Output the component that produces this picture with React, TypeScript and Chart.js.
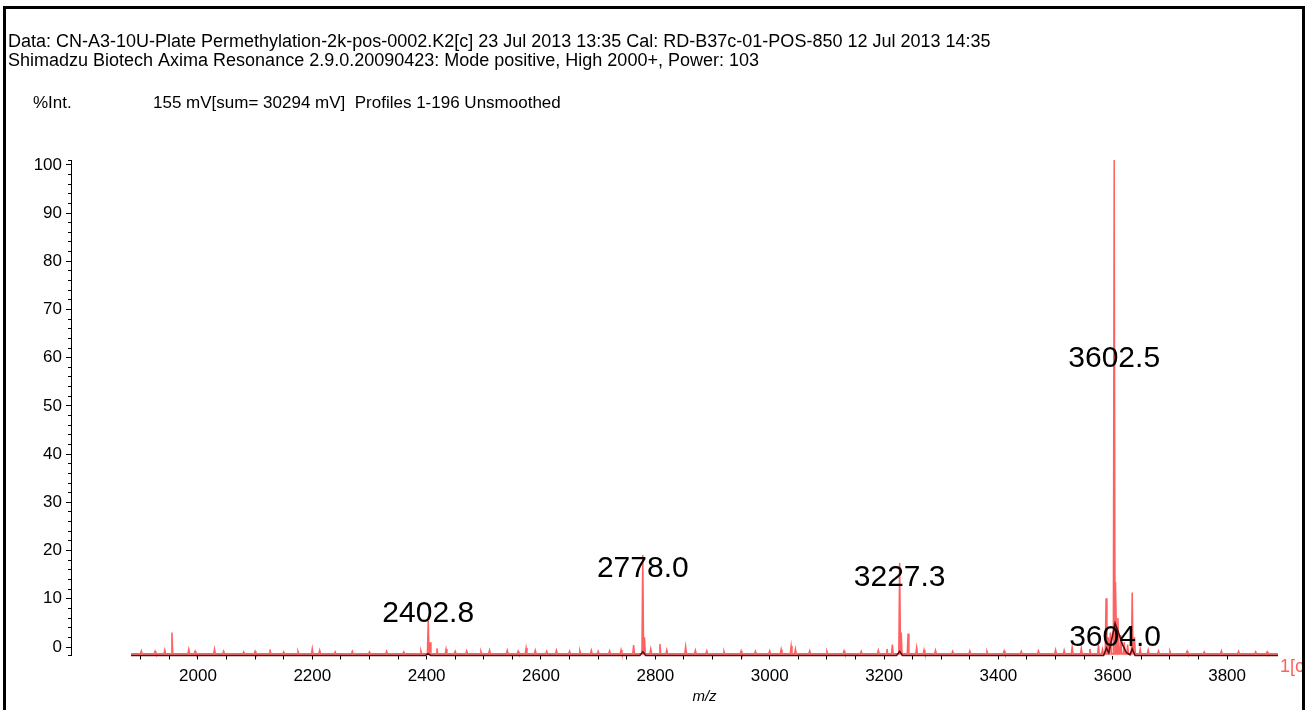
import React, { useEffect, useRef } from "react";
import { Chart, registerables } from "chart.js";

Chart.register(...registerables);

// ---- axis ranges ----
const X_AXIS_MIN = 1778; // value under the y axis line
const X_DATA_MIN = 1883; // left end of the spectrum trace
const X_MAX = 3889;
const Y_MIN = -1.76;
const Y_MAX = 101;
const RAW_BASE = -1.4; // baseline level of the raw profile

// ---- header texts ----
const headerLine1 =
  "Data: CN-A3-10U-Plate Permethylation-2k-pos-0002.K2[c] 23 Jul 2013 13:35 Cal: RD-B37c-01-POS-850 12 Jul 2013 14:35";
const headerLine2 =
  "Shimadzu Biotech Axima Resonance 2.9.0.20090423: Mode positive, High 2000+, Power: 103";
const intLabel = "%Int.";
const infoLabel = "155 mV[sum= 30294 mV]  Profiles 1-196 Unsmoothed";
const xTitle = "m/z";
const traceTag = "1[c";

// ---- tick labels ----
const xTickLabels = [2000, 2200, 2400, 2600, 2800, 3000, 3200, 3400, 3600, 3800];
const yTickLabels = [0, 10, 20, 30, 40, 50, 60, 70, 80, 90, 100];
const Y_MINOR_STEP = 2;

// ---- raw (unsmoothed) profile: peak positions and intensities ----
const peakMz = [
  1901, 1925, 1942, 1954.5, 1984, 1995, 2029, 2045, 2080, 2100, 2126, 2150, 2175, 2200, 2213,
  2240, 2270, 2300, 2330, 2360, 2390, 2402.8, 2406, 2418, 2434, 2450, 2470, 2495, 2510, 2541,
  2560, 2574, 2590, 2610, 2627, 2650, 2668, 2688, 2700, 2720, 2740, 2762, 2778.0, 2781, 2792,
  2808, 2820, 2853, 2870, 2890, 2920, 2950, 2975, 3000, 3020, 3037.5, 3045, 3070, 3100, 3130,
  3160, 3190, 3205, 3214.5, 3227.3, 3230, 3242, 3257, 3270, 3290, 3320, 3350, 3380, 3410,
  3440, 3470, 3500, 3515, 3529, 3545, 3560, 3575, 3582, 3588.3, 3592, 3596, 3602.5, 3605.5,
  3609, 3614, 3620, 3626, 3634, 3638, 3648, 3662, 3680, 3700, 3730, 3760, 3790, 3820, 3850,
  3870,
];
const peakInt = [
  -0.8, -0.9, -0.6, 3.0, -0.5, -0.9, -0.4, -0.9, -1.0, -0.9, -0.5, -1.0, -0.9, -0.3, -0.7,
  -1.0, -0.9, -1.0, -0.9, -1.0, -0.8, 5.5, 1.0, -0.3, -0.4, -0.9, -0.8, -0.9, -0.7, -0.7,
  -0.9, -0.2, -0.7, -0.9, -0.7, -0.9, -0.8, -0.7, -0.9, -0.8, -0.6, 0.4, 19.1, 2.0, -0.4,
  0.6, -0.6, 0.1, -0.7, -0.8, -0.9, -0.8, -0.9, -0.8, -0.5, 0.2, -0.4, -0.8, -0.9, -0.8,
  -0.9, -0.7, -0.4, 0.5, 17.4, 3.0, 2.8, -0.1, -0.6, -0.7, -0.9, -0.8, -0.9, -0.8,
  -0.9, -0.8, -0.6, -0.7, 0.0, -0.3, -0.4, 0.4, -0.5, 10.1, 2.0, 3.0, 101.0, 13.5,
  6.0, 2.5, 1.0, 0.5, 11.3, 2.0, -0.4, -0.6, -0.8, -0.9, -0.9, -1.0, -0.8, -0.9, -1.0,
  -1.0,
];

// ---- dark trace ----
const darkMz = [
  1883, 2398, 2402.8, 2407, 2773, 2778, 2783, 3222, 3227.3, 3232, 3584, 3589, 3593, 3598,
  3604, 3610, 3617, 3624, 3630, 3634, 3639, 3889,
];
const darkInt = [
  -1.76, -1.76, -1.4, -1.76, -1.76, -1.0, -1.76, -1.76, -0.9, -1.76, -1.76, -0.2, -1.2, 1.5,
  4.9, 3.0, 0.5, -1.2, -1.6, -0.4, -1.76, -1.76,
];

// ---- peak annotations ----
const labelMz = [2402.8, 2778.0, 3227.3, 3602.5, 3604.0];
const labelText = ["2402.8", "2778.0", "3227.3", "3602.5", "3604.0"];
const labelLevel = [7.0, 16.3, 14.3, 59.8, 2.0];

const FONT = '"Liberation Sans", Arial, Helvetica, sans-serif';
const SALMON = "rgb(255, 96, 96)";

export default function App() {
  const ref = useRef<HTMLCanvasElement | null>(null);

  useEffect(() => {
    if (!ref.current) return;
    const HALF = 1.5;
    const raw: { x: number; y: number }[] = [{ x: X_DATA_MIN, y: RAW_BASE }];
    peakMz.forEach((m, i) => {
      raw.push({ x: m - HALF, y: RAW_BASE }, { x: m, y: peakInt[i] }, { x: m + HALF, y: RAW_BASE });
    });
    raw.push({ x: X_MAX, y: RAW_BASE });
    const dark = darkMz.map((m, i) => ({ x: m, y: darkInt[i] }));

    const yTickValues: number[] = [Y_MIN];
    for (let v = yTickLabels[0]; v <= yTickLabels[yTickLabels.length - 1]; v += Y_MINOR_STEP) yTickValues.push(v);
    yTickValues.push(Y_MAX);

    const overlay = {
      id: "overlay",
      afterDraw(chart: any) {
        const { ctx } = chart;
        const xs = chart.scales.x;
        const ys = chart.scales.y;
        ctx.save();
        ctx.fillStyle = "#000";
        ctx.textAlign = "left";
        ctx.textBaseline = "middle";
        ctx.font = `18px ${FONT}`;
        ctx.fillText(headerLine1, 8, 42);
        ctx.fillText(headerLine2, 8, 61);
        ctx.font = `17px ${FONT}`;
        ctx.fillText(intLabel, 33, 103);
        ctx.fillText(infoLabel, 153, 103);
        // x title centered under the spectrum range
        ctx.textAlign = "center";
        ctx.font = `italic 15px ${FONT}`;
        ctx.fillText(xTitle, (xs.getPixelForValue(X_DATA_MIN) + xs.right) / 2, 697);
        // peak labels
        ctx.font = `30px ${FONT}`;
        labelMz.forEach((m, i) => {
          ctx.fillText(labelText[i], xs.getPixelForValue(m), ys.getPixelForValue(labelLevel[i]));
        });
        // trace tag
        ctx.textAlign = "left";
        ctx.fillStyle = SALMON;
        ctx.font = `18px ${FONT}`;
        ctx.fillText(traceTag, xs.right + 2, ys.bottom + 12);
        // frame
        ctx.fillStyle = "#000";
        ctx.fillRect(3, 6, 3, 720);
        ctx.fillRect(3, 6, 1302, 3);
        ctx.fillRect(1302, 6, 3, 720);
        ctx.restore();
      },
    };

    const chart = new Chart(ref.current, {
      type: "line",
      data: {
        datasets: [
          {
            data: dark,
            borderColor: "rgb(95, 12, 12)",
            borderWidth: 1.6,
            pointRadius: 0,
            fill: false,
            tension: 0,
            clip: false,
          },
          {
            data: raw,
            borderColor: SALMON,
            backgroundColor: "rgba(255, 110, 110, 0.6)",
            borderWidth: 1.5,
            pointRadius: 0,
            fill: "start",
            tension: 0,
            clip: false,
          },
        ],
      },
      options: {
        animation: false,
        responsive: false,
        events: [],
        layout: { padding: { top: 160, right: 30, left: 0, bottom: 0 } },
        plugins: { legend: { display: false }, tooltip: { enabled: false }, title: { display: false } },
        scales: {
          x: {
            type: "linear",
            min: X_AXIS_MIN,
            max: X_MAX,
            border: { display: false },
            grid: { drawOnChartArea: false, drawTicks: true, tickLength: 4, tickColor: "#000", tickWidth: 1 },
            ticks: {
              stepSize: 50,
              autoSkip: false,
              maxRotation: 0,
              padding: 7,
              color: "#000",
              font: { family: FONT, size: 17 },
              callback: (v: any) => (xTickLabels.includes(Number(v)) ? String(v) : ""),
            },
            afterBuildTicks: (s: any) => {
              s.ticks = s.ticks.filter((t: any) => t.value >= X_DATA_MIN && t.value % 50 === 0);
            },
            afterFit: (s: any) => {
              s.height = 54.5;
            },
          },
          y: {
            type: "linear",
            min: Y_MIN,
            max: Y_MAX,
            border: { display: true, color: "#000", width: 1 },
            grid: {
              drawOnChartArea: false,
              tickLength: 5,
              tickColor: "#000",
              tickBorderDash: (c: any) =>
                c.tick && yTickLabels.includes(c.tick.value) ? [] : [0, 2, 3, 100],
            },
            ticks: {
              autoSkip: false,
              padding: 4,
              color: "#000",
              font: { family: FONT, size: 17 },
              callback: (v: any) => (yTickLabels.includes(Number(v)) ? String(v) : ""),
            },
            afterBuildTicks: (s: any) => {
              s.ticks = yTickValues.map((v) => ({ value: v }));
            },
            afterFit: (s: any) => {
              s.width = 71;
            },
          },
        },
      },
      plugins: [overlay],
    });
    return () => chart.destroy();
  }, []);

  return (
    <div style={{ position: "absolute", left: 0, top: 0, width: 1308, height: 710, background: "#fff" }}>
      <canvas ref={ref} width={1308} height={710} style={{ display: "block" }} />
    </div>
  );
}
